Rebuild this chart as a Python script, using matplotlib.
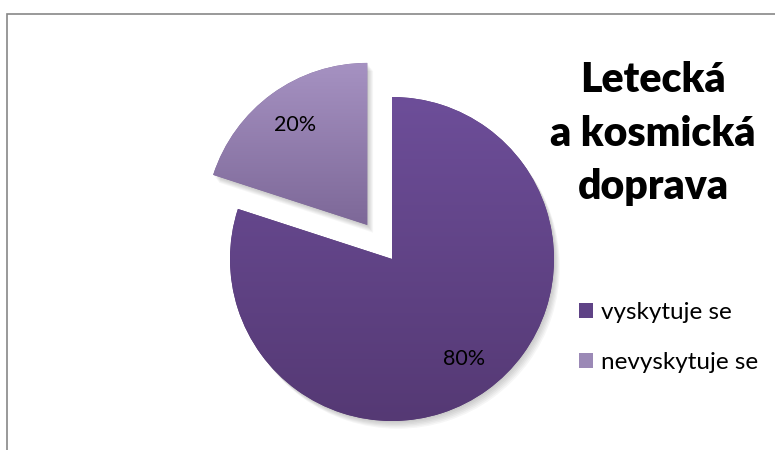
import numpy as np
import matplotlib
matplotlib.use('Agg')
import matplotlib.pyplot as plt
from matplotlib.patches import Wedge, Rectangle, Patch

plt.rcParams['font.family'] = ['Lato', 'DejaVu Sans']

# data
kategorie = ['vyskytuje se', 'nevyskytuje se']
hodnoty = [80, 20]
nadpis = 'Letecká\na kosmická\ndoprava'

# (top, bottom) gradient colours per slice, legend colours
prechody = [('#6d4e99', '#553974'), ('#a692c2', '#7d6898')]
legenda_barvy = ['#5f4386', '#9b89b6']

W, H = 775, 450
fig = plt.figure(figsize=(W / 100, H / 100), dpi=100)

# pie axes: centre (392, 259) px, radius 162 px, limits +-1.5 radius
r_px = 162
cx, cy = 392, 259
half = 1.5 * r_px
ax = fig.add_axes([(cx - half) / W, (H - cy - half) / H, 2 * half / W, 2 * half / H])
ax.set_xlim(-1.5, 1.5)
ax.set_ylim(-1.5, 1.5)
ax.set_aspect('equal')
ax.axis('off')

wedges, texts, autotexts = ax.pie(
    hodnoty, explode=[0, 0.26], startangle=90, counterclock=False,
    colors=[p[1] for p in prechody], autopct='%1.0f%%', pctdistance=0.76,
    textprops={'fontsize': 15.5, 'color': 'black'})

for w, (c_top, c_bot) in zip(wedges, prechody):
    # soft shadow below and right of the slice
    for k in range(1, 7):
        s = Wedge(w.center, w.r, w.theta1, w.theta2,
                  facecolor='black', edgecolor='none', alpha=0.035)
        s.set_center((w.center[0] + 0.006 * k, w.center[1] - 0.008 * k))
        s.set_zorder(0)
        ax.add_patch(s)
    w.set_zorder(1)
    w.set_edgecolor('none')

    # vertical colour gradient clipped to the slice
    ext = w.get_path().get_extents()
    top = np.array(matplotlib.colors.to_rgb(c_top))
    bot = np.array(matplotlib.colors.to_rgb(c_bot))
    t = np.linspace(0, 1, 256)[:, None]
    grad = (top * (1 - t) + bot * t)[:, None, :]
    im = ax.imshow(grad, extent=[ext.x0, ext.x1, ext.y0, ext.y1],
                   aspect='auto', origin='upper', zorder=2, interpolation='bilinear')
    im.set_clip_path(w)

for t in autotexts:
    t.set_zorder(3)

ax.set_xlim(-1.5, 1.5)
ax.set_ylim(-1.5, 1.5)

# title
fig.text(653 / W, 1 - 134 / H, nadpis, ha='center', va='center',
         fontsize=29.5, fontweight='heavy', linespacing=1.5, multialignment='center')

# legend
handles = [Patch(facecolor=c, edgecolor='none') for c in legenda_barvy]
fig.legend(handles, kategorie, loc='upper left',
           bbox_to_anchor=(579 / W, 1 - 302 / H), bbox_transform=fig.transFigure,
           frameon=False, fontsize=17.5, handlelength=0.58, handleheight=0.58,
           handletextpad=0.32, labelspacing=1.2, borderpad=0, borderaxespad=0)

# outer frame of the chart area
fig.add_artist(Rectangle((7 / W, -0.2), 2, (H - 14) / H + 0.2,
                         transform=fig.transFigure, fill=False,
                         edgecolor='#878787', linewidth=1.2, clip_on=False))

fig.savefig('out.png', dpi=100)
